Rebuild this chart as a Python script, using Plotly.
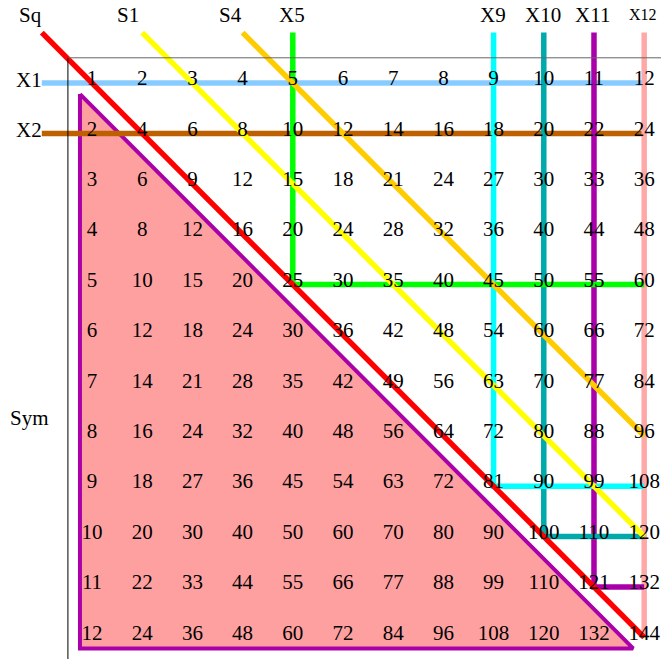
import plotly.graph_objects as go

# ---- data ----
n = 12
table_rows = [
    [1, 2, 3, 4, 5, 6, 7, 8, 9, 10, 11, 12],
    [2, 4, 6, 8, 10, 12, 14, 16, 18, 20, 22, 24],
    [3, 6, 9, 12, 15, 18, 21, 24, 27, 30, 33, 36],
    [4, 8, 12, 16, 20, 24, 28, 32, 36, 40, 44, 48],
    [5, 10, 15, 20, 25, 30, 35, 40, 45, 50, 55, 60],
    [6, 12, 18, 24, 30, 36, 42, 48, 54, 60, 66, 72],
    [7, 14, 21, 28, 35, 42, 49, 56, 63, 70, 77, 84],
    [8, 16, 24, 32, 40, 48, 56, 64, 72, 80, 88, 96],
    [9, 18, 27, 36, 45, 54, 63, 72, 81, 90, 99, 108],
    [10, 20, 30, 40, 50, 60, 70, 80, 90, 100, 110, 120],
    [11, 22, 33, 44, 55, 66, 77, 88, 99, 110, 121, 132],
    [12, 24, 36, 48, 60, 72, 84, 96, 108, 120, 132, 144],
]
row_labels = ["X1", "X2"]
row_label_colors = ["#88CCFF", "#BF6000"]
col_multipliers = [5, 9, 10, 11, 12]
col_labels = ["X5", "X9", "X10", "X11", "X12"]
col_colors = ["#00FF00", "#00FFFF", "#00AAAA", "#AA00AA", "#FFA8A8"]
diag_offsets = [0, 2, 4]
diag_labels = ["Sq", "S1", "S4"]
diag_colors = ["#FF0000", "#FFFF00", "#FFCC00"]

FONT = "Liberation Serif"
LW = 5.5
TXT_DY = -0.06

fig = go.Figure()

# Sym triangle
tl = 1 - 0.24
tt = 1 + 0.22
bb = n + 0.22
rr = n - 0.22
fig.add_trace(go.Scatter(x=[tl, tl, rr, tl], y=[tt, bb, bb, tt], mode="lines",
                         fill="toself", fillcolor="#FFA0A0",
                         line=dict(color="#AA00AA", width=4), hoverinfo="skip"))

def col_path(k):
    return [k, k, n], [0, k, k]

# horizontal row lines X1, X2
for i, (lab, colr) in enumerate(zip(row_labels, row_label_colors)):
    r = i + 1
    fig.add_trace(go.Scatter(x=[0, n], y=[r, r], mode="lines",
                             line=dict(color=colr, width=LW), hoverinfo="skip"))

# column lines X5..X12 (X12 drawn first)
for k, colr in sorted(zip(col_multipliers, col_colors), key=lambda t: -t[0]):
    xs, ys = col_path(k)
    fig.add_trace(go.Scatter(x=xs, y=ys, mode="lines",
                             line=dict(color=colr, width=LW), hoverinfo="skip"))

# diagonals
for off, colr in reversed(list(zip(diag_offsets, diag_colors))):
    fig.add_trace(go.Scatter(x=[off, n], y=[0, n - off], mode="lines",
                             line=dict(color=colr, width=LW), hoverinfo="skip"))

# numbers
xs, ys, ts = [], [], []
for r, row in enumerate(table_rows, start=1):
    for c, v in enumerate(row, start=1):
        xs.append(c)
        ys.append(r + TXT_DY)
        ts.append(str(v))
fig.add_trace(go.Scatter(x=xs, y=ys, text=ts, mode="text", textposition="middle center",
                         cliponaxis=False,
                         textfont=dict(family=FONT, size=21, color="black"), hoverinfo="skip"))

# axis-like lines
fig.add_shape(type="line", x0=0.52, x1=13, y0=0.5, y1=0.5, line=dict(color="#666666", width=1))
fig.add_shape(type="line", x0=0.52, x1=0.52, y0=0.5, y1=13, line=dict(color="black", width=1))

# labels
ann = []
for i, lab in enumerate(row_labels):
    ann.append(dict(x=-0.25, y=i + 1 + TXT_DY, text=lab))
ann.append(dict(x=-0.25, y=7.71 + TXT_DY, text="Sym"))
HEAD_Y = -0.29
diag_label_x = [-0.235, 1.72, 3.75]
for lab, xl in zip(diag_labels, diag_label_x):
    ann.append(dict(x=xl, y=HEAD_Y + TXT_DY, text=lab))
for k, lab in zip(col_multipliers, col_labels):
    d = dict(x=k - 0.02, y=HEAD_Y + TXT_DY, text=lab)
    if lab == "X12":
        d["font"] = dict(family=FONT, size=16, color="black")
    ann.append(d)
for a in ann:
    a.setdefault("font", dict(family=FONT, size=21, color="black"))
    fig.add_annotation(xref="x", yref="y", showarrow=False, xanchor="center", yanchor="middle", **a)

fig.update_layout(
    width=661, height=659, margin=dict(l=0, r=0, t=0, b=0),
    paper_bgcolor="white", plot_bgcolor="white", showlegend=False,
    xaxis=dict(range=[-0.833, 12.335], visible=False, fixedrange=True),
    yaxis=dict(range=[12.43, -0.647], visible=False, fixedrange=True),
)
fig.write_html("out.html", config={"displayModeBar": False},
               post_script="document.body.style.margin='0px';document.body.style.overflow='hidden';")
